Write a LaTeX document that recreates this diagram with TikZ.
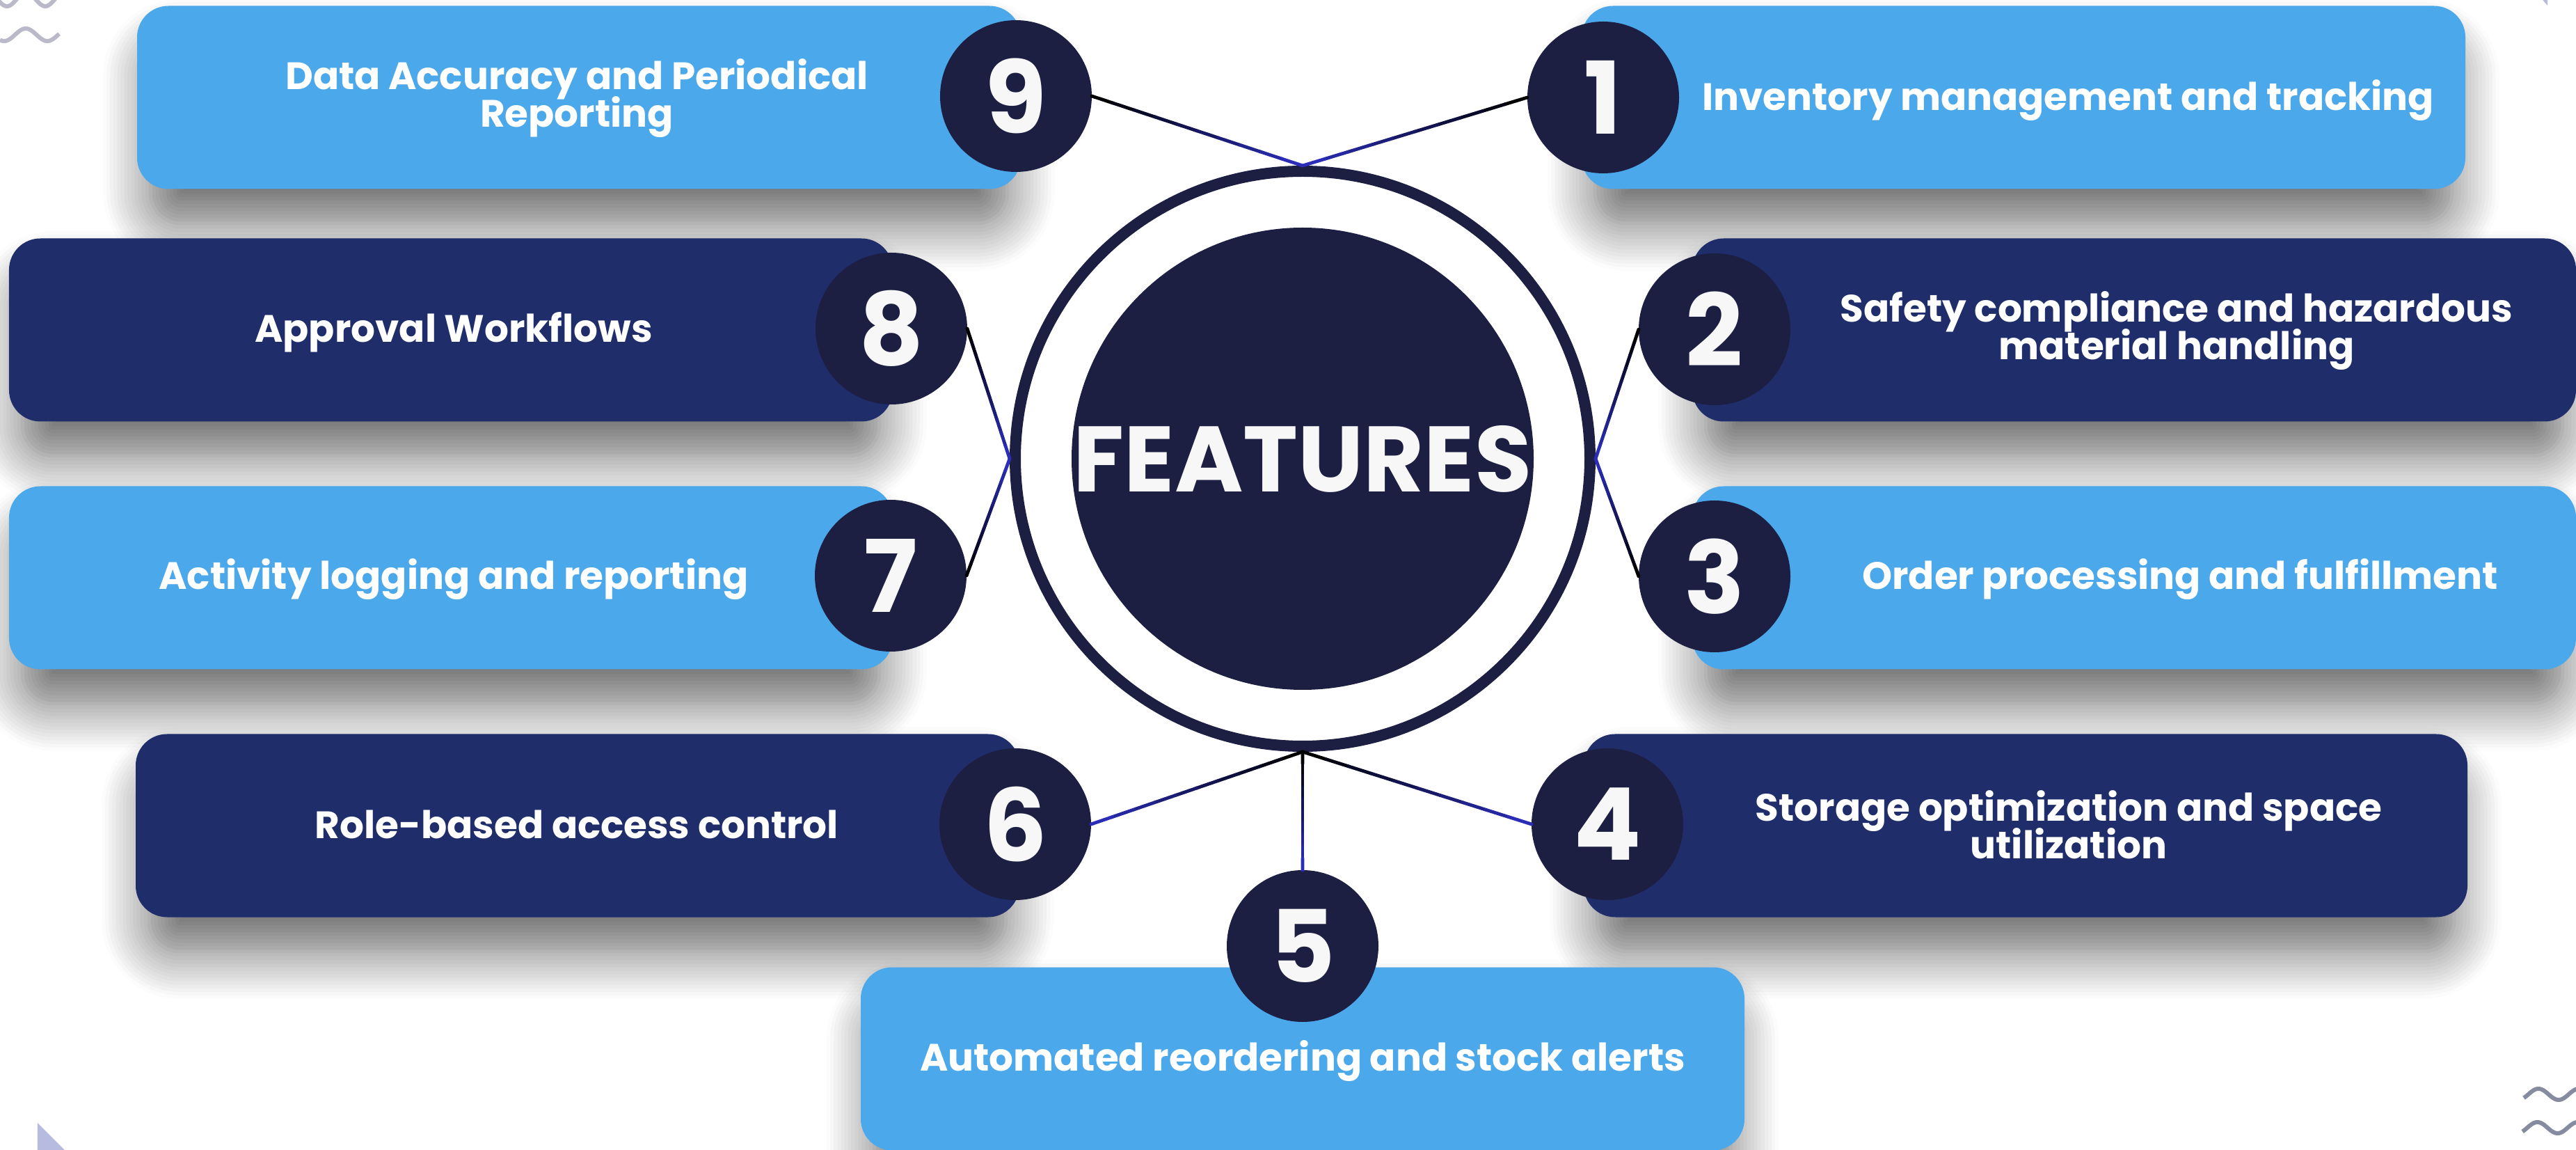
\documentclass[tikz,border=0pt]{standalone}
\usepackage{fontspec}
\setmainfont{Poppins}
\usepackage{xcolor}
\usetikzlibrary{calc,shadows.blur}
\definecolor{boxsky}{HTML}{4BA8EA}
\definecolor{boxnavy}{HTML}{1F2D6B}
\definecolor{dotnavy}{HTML}{1D1F42}
\definecolor{linkblue}{HTML}{2B2DB8}
\definecolor{wavegrey}{HTML}{B9B9C9}
\definecolor{wavedark}{HTML}{878BA0}
\definecolor{lilac}{HTML}{B8BBE0}
\definecolor{offwhite}{HTML}{F7F7F7}
\newcommand{\tightlines}{\setlength{\lineskiplimit}{-20pt}}
\tikzset{
	featbox/.style={
			rounded corners=0.45cm, minimum width=12.7cm, minimum height=2.63cm,
			inner sep=0pt, outer sep=0pt,
			blur shadow={shadow xshift=0cm, shadow yshift=-0.55cm, shadow scale=0.97,
					shadow blur radius=0.7cm, shadow blur steps=14, shadow opacity=60}
		},
	skybox/.style={featbox, fill=boxsky},
	navybox/.style={featbox, fill=boxnavy},
	numdot/.style={
			circle, fill=dotnavy, minimum size=2.18cm, inner sep=0pt, outer sep=0pt,
			text=offwhite, font=\fontsize{41}{41}\selectfont\bfseries
		},
	featlabel/.style={text=white, align=center,
			font=\fontsize{15.6}{15.4}\selectfont\bfseries\tightlines},
	squiggle/.style={line width=0.06cm}
}
% connector fading from black (#1) to blue (#2)
\newcommand{\gradlink}[2]{%
	\foreach \s in {0,...,9}{
		\pgfmathsetmacro{\ta}{\s/10}
		\pgfmathsetmacro{\tb}{(\s+1)/10}
		\pgfmathtruncatemacro{\mix}{\s*100/9}
		\draw [line width=0.048cm, line cap=round, linkblue!\mix!black]
			($(#1)!\ta!(#2)$) -- ($(#1)!\tb!(#2)$);
	}
}

\begin{document}
\begin{tikzpicture}
		\useasboundingbox (0,0) rectangle (37.02,-16.52);

		% feature boxes
		\node [skybox]	(b9) at (8.32,-1.40) {};
		\node [skybox]	(b1) at (29.08,-1.40) {};
		\node [navybox]	(b8) at (6.48,-4.74) {};
		\node [navybox]	(b2) at (30.67,-4.74) {};
		\node [skybox]	(b7) at (6.48,-8.30) {};
		\node [skybox]	(b3) at (30.67,-8.30) {};
		\node [navybox]	(b6) at (8.30,-11.86) {};
		\node [navybox]	(b4) at (29.11,-11.86) {};
		\node [skybox]	(b5) at (18.72,-15.21) {};

		% numbers
		\node [numdot]	(n9) at (14.60,-1.38) {9};
		\node [numdot]	(n1) at (23.04,-1.40) {1};
		\node [numdot]	(n8) at (12.81,-4.72) {8};
		\node [numdot]	(n2) at (24.64,-4.73) {2};
		\node [numdot]	(n7) at (12.80,-8.27) {7};
		\node [numdot]	(n3) at (24.64,-8.28) {3};
		\node [numdot]	(n6) at (14.59,-11.84) {6};
		\node [numdot]	(n4) at (23.10,-11.84) {4};
		\node [numdot]	(n5) at (18.72,-13.59) {5};

		% centre
		\node [circle, draw=dotnavy, line width=0.16cm, minimum size=8.26cm, inner sep=0pt]
			(ring) at (18.72,-6.59) {};
		\node [circle, fill=dotnavy, minimum size=6.64cm, inner sep=0pt, text=offwhite,
			font=\fontsize{38}{38}\selectfont\bfseries] (core) at (ring.center) {FEATURES};

		% labels
		\node [featlabel]	(t9) at (8.29,-1.41) {Data Accuracy and Periodical\\Reporting};
		\node [featlabel]	(t1) at (29.72,-1.44) {Inventory management and tracking};
		\node [featlabel]	(t8) at (6.52,-4.77) {Approval Workflows};
		\node [featlabel]	(t2) at (31.28,-4.75) {Safety compliance and hazardous\\material handling};
		\node [featlabel]	(t7) at (6.52,-8.32) {Activity logging and reporting};
		\node [featlabel]	(t3) at (31.33,-8.32) {Order processing and fulfillment};
		\node [featlabel]	(t6) at (8.29,-11.84) {Role-based access control};
		\node [featlabel]	(t4) at (29.73,-11.85) {Storage optimization and space\\utilization};
		\node [featlabel]	(t5) at (18.72,-15.24) {Automated reordering and stock alerts};

		% connectors
		\gradlink{n9.east}{ring.north}
		\gradlink{n1.west}{ring.north}
		\gradlink{n8.east}{ring.west}
		\gradlink{n7.east}{ring.west}
		\gradlink{n2.west}{ring.east}
		\gradlink{n3.west}{ring.east}
		\gradlink{ring.south}{n6.east}
		\gradlink{ring.south}{n4.west}
		\gradlink{ring.south}{n5.north}

		% corner ornaments
		\draw [squiggle, wavegrey] plot [domain=-0.05:0.85, samples=60, smooth]
			(\x,{0.01+0.10*sin(((\x-0.10)/0.55)*360-90)});
		\draw [squiggle, wavegrey] plot [domain=0:0.85, samples=60, smooth]
			(\x,{-0.50+0.09*sin(((\x-0.215)/0.62)*360)});
		\draw [squiggle, wavedark] plot [domain=36.27:37.10, samples=60, smooth]
			(\x,{-15.72+0.08*sin(((\x-36.335)/0.58)*360)});
		\draw [squiggle, wavedark] plot [domain=36.25:37.10, samples=60, smooth]
			(\x,{-16.20+0.08*sin(((\x-36.32)/0.58)*360)});
		\fill [lilac] (0.54,-16.13) -- (0.54,-16.60) -- (1.01,-16.60) -- cycle;
		\fill [lilac] (36.50,0.05) -- (36.61,-0.08) -- (36.61,0.05) -- cycle;
	\end{tikzpicture}
\end{document}
